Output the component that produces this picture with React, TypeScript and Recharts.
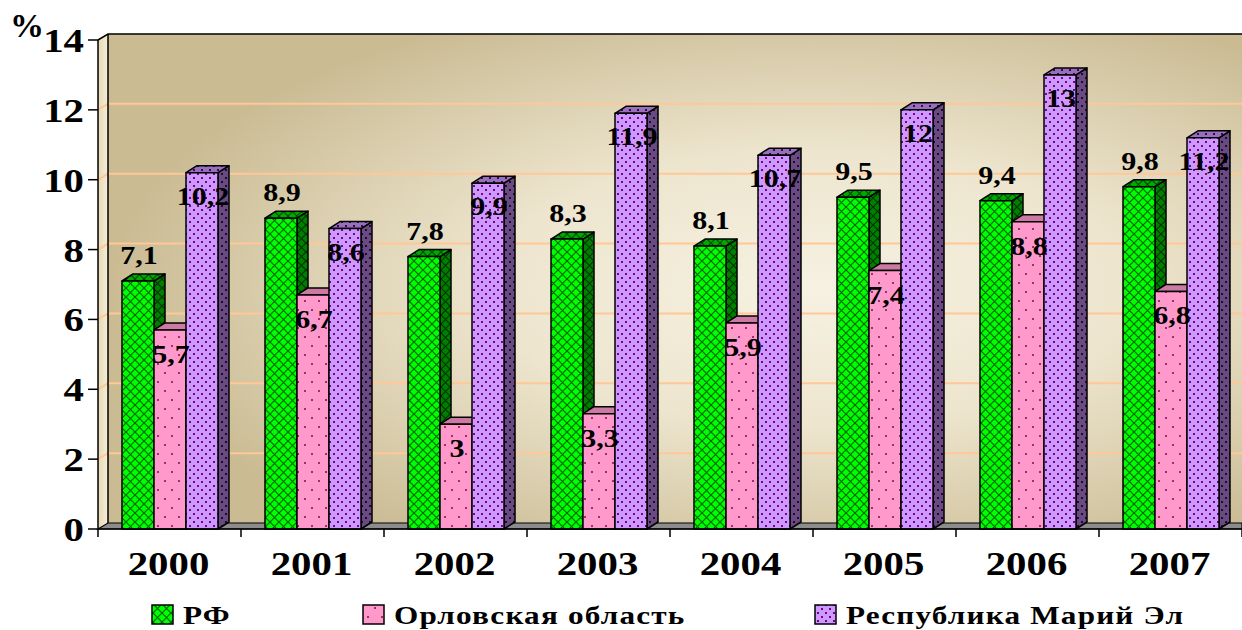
import React from 'react';
import { BarChart, Bar, XAxis, YAxis, Legend, ReferenceArea } from 'recharts';

const years = ['2000', '2001', '2002', '2003', '2004', '2005', '2006', '2007'];
const rfValues = [7.1, 8.9, 7.8, 8.3, 8.1, 9.5, 9.4, 9.8];
const orelValues = [5.7, 6.7, 3, 3.3, 5.9, 7.4, 8.8, 6.8];
const mariValues = [10.2, 8.6, 9.9, 11.9, 10.7, 12, 13, 11.2];
const yTicks = [0, 2, 4, 6, 8, 10, 12, 14];
const gridValues = [2, 4, 6, 8, 10, 12];
const seriesNames = ['РФ', 'Орловская область', 'Республика Марий Эл'];

const data = years.map((year, i) => ({
  year,
  rf: rfValues[i],
  orel: orelValues[i],
  mari: mariValues[i],
}));

const W = 1242;
const H = 630;
const Y_AXIS_W = 98;
const Y_MAX = 14;
const FONT = 'Liberation Serif, Times New Roman, serif';
const STRETCH = 1.2;
const textStyle = { fontFamily: FONT, fontWeight: 700 } as const;

// box depth of the bars and of the walls
const BAR_DX = 11;
const BAR_DY = 7;
const WALL_DX = 10;
const WALL_DY = 6;

type Faces = { front: string; top: string; side: string; labelDy: number; legendX: number };
const FACES: Record<string, Faces> = {
  rf: { front: 'url(#rfFront)', top: 'url(#rfTop)', side: 'url(#rfSide)', labelDy: -25, legendX: 152 },
  orel: { front: 'url(#orelFront)', top: 'url(#orelTop)', side: 'url(#orelSide)', labelDy: 25, legendX: 363 },
  mari: { front: 'url(#mariFront)', top: 'url(#mariTop)', side: 'url(#mariSide)', labelDy: 24, legendX: 815 },
};

const fmt = (v: number) => String(v).replace('.', ',');

const Box3D = (props: any, faces: Faces) => {
  const { x, y, width, height } = props;
  if (!height) return <g />;
  const x2 = x + width;
  const y2 = y + height;
  return (
    <g stroke="#000" strokeWidth={1.5} strokeLinejoin="round">
      <polygon
        points={`${x2},${y} ${x2 + BAR_DX},${y - BAR_DY} ${x2 + BAR_DX},${y2 - BAR_DY} ${x2},${y2}`}
        fill={faces.side}
      />
      <polygon
        points={`${x},${y} ${x + BAR_DX},${y - BAR_DY} ${x2 + BAR_DX},${y - BAR_DY} ${x2},${y}`}
        fill={faces.top}
      />
      <rect x={x} y={y} width={width} height={height} fill={faces.front} />
    </g>
  );
};

const BarValue = (props: any, faces: Faces) => {
  const { x, y, width, value } = props;
  const cx = x + width / 2 + 1;
  const cy = y + faces.labelDy;
  return (
    <g transform={`translate(${cx},${cy + 8}) scale(${STRETCH},1)`}>
      <text textAnchor="middle" style={textStyle} fontSize={25} fill="#000">
        {fmt(value)}
      </text>
    </g>
  );
};

// back wall, side wall, floor and the wall gridlines
const Frame = (props: any) => {
  const { x, y, width, height } = props;
  const bottom = y + height;
  const right = x + width;
  return (
    <g>
      <rect x={x + WALL_DX} y={y - WALL_DY} width={width - WALL_DX} height={height} fill="url(#wallFill)" />
      <polygon
        points={`${x},${y} ${x + WALL_DX},${y - WALL_DY} ${x + WALL_DX},${bottom - WALL_DY} ${x},${bottom}`}
        fill="url(#sideWall)"
      />
      {gridValues.map((v) => {
        const gy = bottom - (height * v) / Y_MAX;
        return (
          <polyline
            key={v}
            points={`${x},${gy} ${x + WALL_DX},${gy - WALL_DY} ${right},${gy - WALL_DY}`}
            fill="none"
            stroke="#ffc896"
            strokeWidth={2}
          />
        );
      })}
      <polyline
        points={`${x},${y} ${x + WALL_DX},${y - WALL_DY} ${right},${y - WALL_DY}`}
        fill="none"
        stroke="#000"
        strokeWidth={1.5}
      />
      <line x1={x + WALL_DX} y1={y - WALL_DY} x2={x + WALL_DX} y2={bottom - WALL_DY} stroke="#000" strokeWidth={1.5} />
      <polygon
        points={`${x},${bottom} ${x + WALL_DX},${bottom - WALL_DY} ${right},${bottom - WALL_DY} ${right},${bottom}`}
        fill="#8c8c8c"
        stroke="#000"
        strokeWidth={1.2}
      />
    </g>
  );
};

const YTick = (props: any) => {
  const { x, y, payload } = props;
  return (
    <g transform={`translate(${x},${y + 12}) scale(${STRETCH},1)`}>
      <text textAnchor="end" style={textStyle} fontSize={34} fill="#000">
        {payload.value}
      </text>
    </g>
  );
};

const XTick = (props: any) => {
  const { x, y, payload, index } = props;
  const band = (W - Y_AXIS_W) / years.length;
  return (
    <g>
      {index === 0 && <line x1={x - band / 2} y1={y} x2={x - band / 2} y2={y + 8} stroke="#000" strokeWidth={1.5} />}
      <line x1={x + band / 2} y1={y} x2={x + band / 2} y2={y + 8} stroke="#000" strokeWidth={1.5} />
      <g transform={`translate(${x - 1},${y + 46}) scale(${STRETCH},1)`}>
        <text textAnchor="middle" style={textStyle} fontSize={34} fill="#000">
          {payload.value}
        </text>
      </g>
    </g>
  );
};

const PercentLabel = (props: any) => {
  const vb = props.viewBox || { x: 0, y: 40 };
  return (
    <text x={vb.x + 10} y={vb.y - 3} style={textStyle} fontSize={34} fill="#000">
      %
    </text>
  );
};

const LegendContent = (props: any) => {
  const payload = props.payload || [];
  return (
    <svg width={W} height={40} style={{ display: 'block' }}>
      {payload.map((entry: any) => {
        const faces = FACES[entry.dataKey];
        const sx = faces.legendX;
        return (
          <g key={entry.value}>
            <rect x={sx} y={10} width={21} height={19} fill={faces.front} stroke="#000" strokeWidth={1.5} />
            <g transform={`translate(${sx + 31},29) scale(1.2,1)`}>
              <text style={textStyle} fontSize={26} letterSpacing={1} fill="#000">
                {entry.value}
              </text>
            </g>
          </g>
        );
      })}
    </svg>
  );
};

const Patterns = () => (
  <svg width={0} height={0} style={{ position: 'absolute' }}>
    <defs>
      <pattern id="rfFront" patternUnits="userSpaceOnUse" width={9} height={9}>
        <rect width={9} height={9} fill="#00ff00" />
        <path d="M0,0 L9,9 M9,0 L0,9" stroke="#006600" strokeWidth={1.2} />
      </pattern>
      <pattern id="rfSide" patternUnits="userSpaceOnUse" width={9} height={9}>
        <rect width={9} height={9} fill="#008000" />
        <path d="M0,0 L9,9 M9,0 L0,9" stroke="#003300" strokeWidth={1.2} />
      </pattern>
      <pattern id="rfTop" patternUnits="userSpaceOnUse" width={9} height={9}>
        <rect width={9} height={9} fill="#00a800" />
        <path d="M0,0 L9,9 M9,0 L0,9" stroke="#004d00" strokeWidth={1.2} />
      </pattern>
      <pattern id="orelFront" patternUnits="userSpaceOnUse" width={14} height={18}>
        <rect width={14} height={18} fill="#ff99cc" />
        <rect x={3} y={3} width={2} height={2} fill="#993366" />
        <rect x={10} y={12} width={2} height={2} fill="#993366" />
      </pattern>
      <pattern id="orelTop" patternUnits="userSpaceOnUse" width={14} height={18}>
        <rect width={14} height={18} fill="#cc7aa3" />
      </pattern>
      <pattern id="orelSide" patternUnits="userSpaceOnUse" width={14} height={18}>
        <rect width={14} height={18} fill="#a3527a" />
      </pattern>
      <pattern id="mariFront" patternUnits="userSpaceOnUse" width={8} height={8}>
        <rect width={8} height={8} fill="#cc99ff" />
        <rect x={1} y={1} width={2} height={2} fill="#800080" />
        <rect x={5} y={5} width={2} height={2} fill="#800080" />
      </pattern>
      <pattern id="mariSide" patternUnits="userSpaceOnUse" width={8} height={8}>
        <rect width={8} height={8} fill="#664c80" />
        <rect x={1} y={1} width={2} height={2} fill="#330033" />
        <rect x={5} y={5} width={2} height={2} fill="#330033" />
      </pattern>
      <pattern id="mariTop" patternUnits="userSpaceOnUse" width={8} height={8}>
        <rect width={8} height={8} fill="#9470bd" />
        <rect x={1} y={1} width={2} height={2} fill="#4d004d" />
        <rect x={5} y={5} width={2} height={2} fill="#4d004d" />
      </pattern>
      <radialGradient id="wallFill" cx="0.62" cy="0.52" r="0.62">
        <stop offset="0" stopColor="#f6f1e2" />
        <stop offset="0.45" stopColor="#ede5ce" />
        <stop offset="1" stopColor="#cabb93" />
      </radialGradient>
      <linearGradient id="sideWall" x1="0" y1="0" x2="1" y2="0">
        <stop offset="0" stopColor="#e6d8b0" />
        <stop offset="1" stopColor="#f5eedb" />
      </linearGradient>
    </defs>
  </svg>
);

const App: React.FC = () => {
  return (
    <div style={{ width: W, height: H, position: 'relative', background: '#fff' }}>
      <style>{'body { margin: 0; }'}</style>
      <Patterns />
      <BarChart
        width={W}
        height={H}
        data={data}
        barGap={0}
        margin={{ top: 40, right: 0, bottom: 41, left: 0 }}
      >
        <ReferenceArea y1={0} y2={Y_MAX} shape={Frame} ifOverflow="visible" />
        <XAxis
          dataKey="year"
          height={60}
          axisLine={{ stroke: '#000', strokeWidth: 1.5 }}
          tickLine={false}
          tickSize={0}
          tickMargin={0}
          tick={XTick}
          interval={0}
        />
        <YAxis
          width={Y_AXIS_W}
          domain={[0, Y_MAX]}
          ticks={yTicks}
          axisLine={{ stroke: '#000', strokeWidth: 1.5 }}
          tickLine={{ stroke: '#000', strokeWidth: 1.5 }}
          tickSize={10}
          tickMargin={4}
          tick={YTick}
          label={{ content: PercentLabel }}
        />
        <Legend
          layout="horizontal"
          verticalAlign="middle"
          align="center"
          wrapperStyle={{ top: 595, left: 0, width: W, height: 40 }}
          content={LegendContent}
        />
        <Bar
          dataKey="rf"
          name={seriesNames[0]}
          barSize={32}
          isAnimationActive={false}
          shape={(p: any) => Box3D(p, FACES.rf)}
          label={(p: any) => BarValue(p, FACES.rf)}
        />
        <Bar
          dataKey="orel"
          name={seriesNames[1]}
          barSize={32}
          isAnimationActive={false}
          shape={(p: any) => Box3D(p, FACES.orel)}
          label={(p: any) => BarValue(p, FACES.orel)}
        />
        <Bar
          dataKey="mari"
          name={seriesNames[2]}
          barSize={32}
          isAnimationActive={false}
          shape={(p: any) => Box3D(p, FACES.mari)}
          label={(p: any) => BarValue(p, FACES.mari)}
        />
      </BarChart>
    </div>
  );
};

export default App;
